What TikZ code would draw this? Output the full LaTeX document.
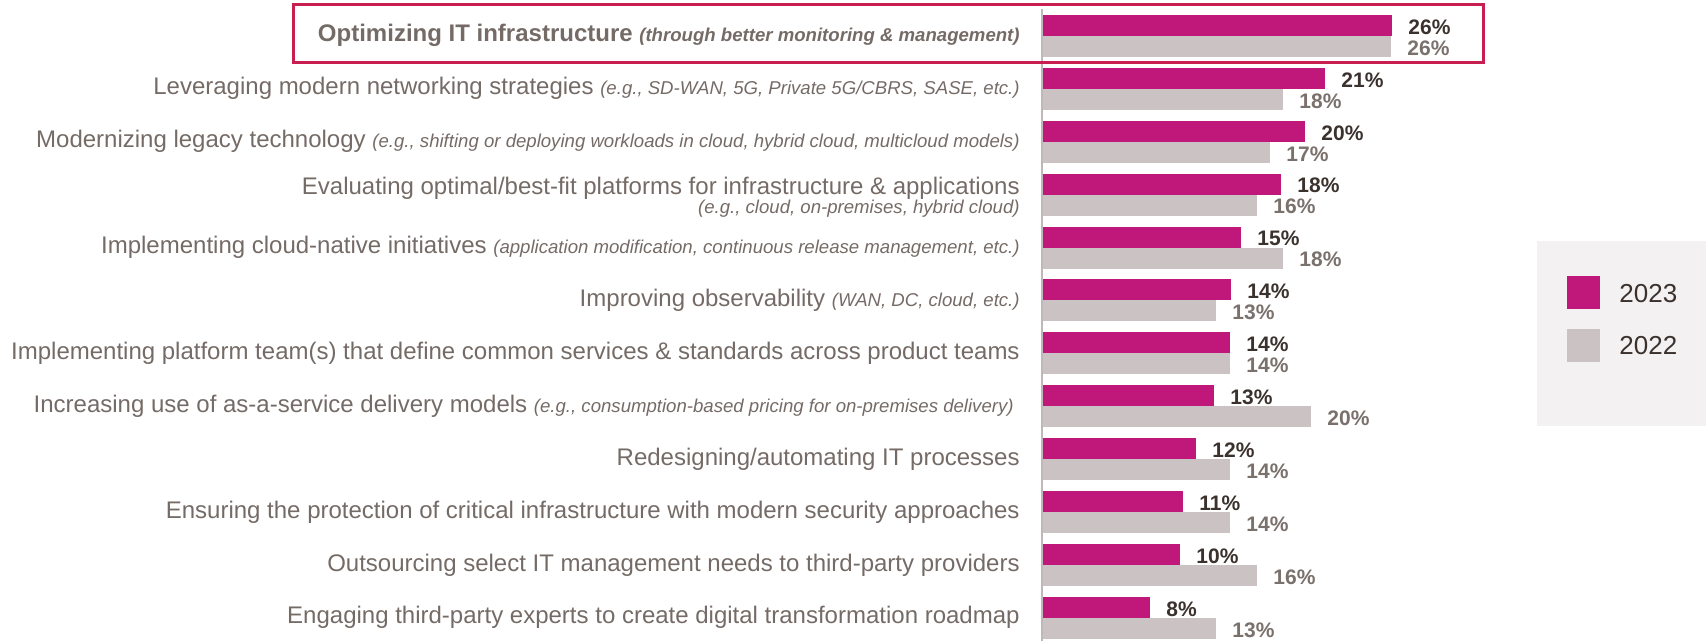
\documentclass[tikz,border=0pt]{standalone}
\usepackage{fontspec}
\setmainfont{Liberation Sans}
\definecolor{magbar}{RGB}{192,24,122}
\definecolor{graybar}{RGB}{203,195,195}
\definecolor{labelgray}{RGB}{117,107,102}
\definecolor{valdark}{RGB}{59,50,46}
\definecolor{valgray}{RGB}{122,112,108}
\definecolor{hilite}{RGB}{200,30,80}
\definecolor{axisgray}{RGB}{190,184,184}
\definecolor{legendbg}{RGB}{243,241,242}
\tikzset{
  catlabel/.style={anchor=base east, inner sep=0pt, text=labelgray, font=\fontsize{12}{14}\selectfont},
  val23/.style={anchor=west, inner sep=0pt, text=valdark, font=\bfseries\fontsize{10.5}{12}\selectfont},
  val22/.style={anchor=west, inner sep=0pt, text=valgray, font=\bfseries\fontsize{10.5}{12}\selectfont},
  legtext/.style={anchor=base west, inner sep=0pt, text=valdark, font=\fontsize{13}{15}\selectfont},
}
\newcommand{\exmp}[1]{{\itshape\fontsize{9.3}{11}\selectfont #1}}
\newcommand{\chartrow}[5]{%
  \fill[magbar] (1043,{15+52.9*#1}) rectangle (#2,{36+52.9*#1});
  \fill[graybar] (1043,{36+52.9*#1}) rectangle (#3,{57+52.9*#1});
  \node[val23] (v23-#1) at ({#2+16},{27+52.9*#1}) {#4\%};
  \node[val22] (v22-#1) at ({#3+16},{48+52.9*#1}) {#5\%};
}
\begin{document}
\begin{tikzpicture}[x=0.5pt,y=-0.5pt]
\useasboundingbox (0,0) rectangle (1706,641);
% bars
\chartrow{0}{1392}{1391}{26}{26}
\chartrow{1}{1325}{1283}{21}{18}
\chartrow{2}{1305}{1270}{20}{17}
\chartrow{3}{1281}{1257}{18}{16}
\chartrow{4}{1241}{1283}{15}{18}
\chartrow{5}{1231}{1216}{14}{13}
\chartrow{6}{1230}{1230}{14}{14}
\chartrow{7}{1214}{1311}{13}{20}
\chartrow{8}{1196}{1230}{12}{14}
\chartrow{9}{1183}{1230}{11}{14}
\chartrow{10}{1180}{1257}{10}{16}
\chartrow{11}{1150}{1216}{8}{13}
% axis
\draw[axisgray, line width=0.8pt] (1042,9) -- (1042,641);
% highlight
\draw[hilite, line width=1.3pt] (293.5,4.5) rectangle (1483.5,62.5);
% labels
\node[catlabel] (l0) at (1020,{42+52.9*0}) {\bfseries Optimizing IT infrastructure {\itshape\fontsize{9.3}{11}\selectfont (through better monitoring \& management)}};
\node[catlabel] (l1) at (1020,{42+52.9*1}) {Leveraging modern networking strategies \exmp{(e.g., SD-WAN, 5G, Private 5G/CBRS, SASE, etc.)}};
\node[catlabel] (l2) at (1020,{42+52.9*2}) {Modernizing legacy technology \exmp{(e.g., shifting or deploying workloads in cloud, hybrid cloud, multicloud models)}};
\node[catlabel] (l3) at (1020,194.5) {Evaluating optimal/best-fit platforms for infrastructure \& applications};
\node[catlabel] (l3b) at (1020,213.5) {\exmp{(e.g., cloud, on-premises, hybrid cloud)}};
\node[catlabel] (l4) at (1020,{42+52.9*4}) {Implementing cloud-native initiatives \exmp{(application modification, continuous release management, etc.)}};
\node[catlabel] (l5) at (1020,{42+52.9*5}) {Improving observability \exmp{(WAN, DC, cloud, etc.)}};
\node[catlabel] (l6) at (1020,{42+52.9*6}) {Implementing platform team(s) that define common services \& standards across product teams};
\node[catlabel] (l7) at (1014,{42+52.9*7}) {Increasing use of as-a-service delivery models \exmp{(e.g., consumption-based pricing for on-premises delivery)}};
\node[catlabel] (l8) at (1020,{42+52.9*8}) {Redesigning/automating IT processes};
\node[catlabel] (l9) at (1020,{42+52.9*9}) {Ensuring the protection of critical infrastructure with modern security approaches};
\node[catlabel] (l10) at (1020,{42+52.9*10}) {Outsourcing select IT management needs to third-party providers};
\node[catlabel] (l11) at (1020,{42+52.9*11}) {Engaging third-party experts to create digital transformation roadmap};
% legend
\fill[legendbg] (1537,241) rectangle (1706,426);
\fill[magbar] (1567,276) rectangle (1600,309);
\fill[graybar] (1567,329) rectangle (1600,362);
\node[legtext] (leg23) at (1619,303) {2023};
\node[legtext] (leg22) at (1619,355) {2022};
\end{tikzpicture}
\end{document}
